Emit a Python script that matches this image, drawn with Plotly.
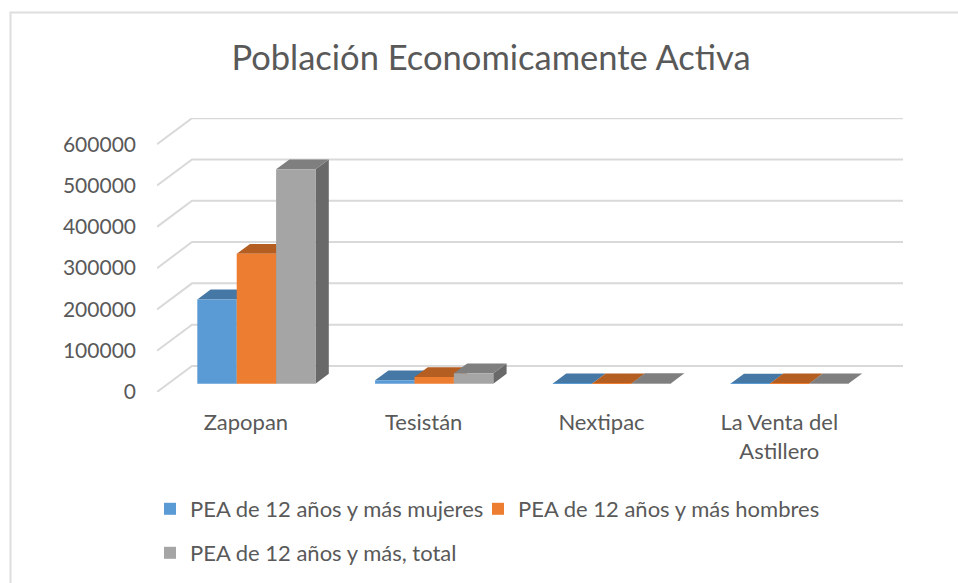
import plotly.graph_objects as go

categories = ["Zapopan", "Tesistán", "Nextipac", "La Venta del<br>Astillero"]
pea_mujeres = [204000, 8000, 400, 300]
pea_hombres = [314500, 16000, 600, 500]
pea_total = [519000, 25000, 1000, 800]
series_names = ["PEA de 12 años y más mujeres", "PEA de 12 años y más hombres", "PEA de 12 años y más, total"]
y_ticks = [0, 100000, 200000, 300000, 400000, 500000, 600000]

front_colors = ["#5B9BD5", "#ED7D31", "#A5A5A5"]
top_colors = ["#4678A6", "#B55E22", "#7F7F7F"]
side_colors = ["#3E6B94", "#A35520", "#696969"]
FONT = "Lato, Carlito, sans-serif"
TEXT = "#595959"
GRID = "#D9D9D9"

W, H = 958, 583
L, R, T, B = 157.0, 903.0, 118.3, 391.7
PX_PER_CAT = 177.8
PX_PER_UNIT = 41.2 / 100000

DX = 35 / PX_PER_CAT
DY = 26 / PX_PER_UNIT
XMAX = (R - L) / PX_PER_CAT
YMAX = (B - T) / PX_PER_UNIT
BAR_W = 39.4 / PX_PER_CAT
BASE_X = 0.30 * DX
BASE_Y = 0.32 * DY
DEPTH_X = 0.38 * DX
DEPTH_Y = 0.38 * DY

fig = go.Figure()

# floor / wall grid lines in the fake 3-D projection
gx, gy = [], []
for v in y_ticks:
    gx += [0, DX, XMAX, None]
    gy += [v, v + DY, v + DY, None]
fig.add_trace(go.Scatter(x=gx, y=gy, mode="lines", line=dict(color=GRID, width=2),
                         showlegend=False, hoverinfo="skip", zorder=-10))

legend_ids = ["legend", "legend2", "legend3"]
all_values = [pea_mujeres, pea_hombres, pea_total]
for i, values in enumerate(all_values):
    centers = [k + 0.5 + BASE_X + (i - 1) * BAR_W for k in range(len(categories))]
    # side and top faces
    sx, sy, tx, ty = [], [], [], []
    for c, v in zip(centers, values):
        x0, x1 = c - BAR_W / 2, c + BAR_W / 2
        y0, y1 = BASE_Y, BASE_Y + v
        sx += [x1, x1 + DEPTH_X, x1 + DEPTH_X, x1, x1, None]
        sy += [y0, y0 + DEPTH_Y, y1 + DEPTH_Y, y1, y0, None]
        tx += [x0, x0 + DEPTH_X, x1 + DEPTH_X, x1, x0, None]
        ty += [y1, y1 + DEPTH_Y, y1 + DEPTH_Y, y1, y1, None]
    for px, py, col in ((sx, sy, side_colors[i]), (tx, ty, top_colors[i])):
        fig.add_trace(go.Scatter(x=px, y=py, mode="lines", fill="toself", fillcolor=col,
                                 line=dict(width=0, color=col), showlegend=False,
                                 hoverinfo="skip", zorder=2 * i))
    fig.add_trace(go.Bar(x=centers, y=values, base=BASE_Y, width=BAR_W, name=series_names[i],
                         marker=dict(color=front_colors[i], line=dict(width=0)),
                         legend=legend_ids[i], zorder=2 * i + 1))

def lx(px):
    return px / W

def ly(py):
    return 1 - py / H

legend_common = dict(orientation="h", xref="container", yref="container", yanchor="middle",
                     xanchor="left", bgcolor="rgba(0,0,0,0)",
                     font=dict(family=FONT, size=22, color=TEXT),
                     itemclick=False, itemdoubleclick=False)

fig.update_layout(
    width=W, height=H, autosize=False,
    margin=dict(l=L, r=W - R, t=T, b=H - B, pad=0),
    paper_bgcolor="white", plot_bgcolor="white",
    barmode="overlay",
    title=dict(text="Población Economicamente Activa", xref="container", yref="container",
               x=491 / W, y=ly(58), xanchor="center", yanchor="middle",
               font=dict(family=FONT, size=34.5, color=TEXT)),
    xaxis=dict(range=[0, XMAX], tickvals=[k + 0.5 for k in range(len(categories))], ticktext=categories,
               showgrid=False, zeroline=False, showline=False, ticks="", ticklabelstandoff=15,
               tickfont=dict(family=FONT, size=22, color=TEXT)),
    yaxis=dict(range=[0, YMAX], tickvals=y_ticks, tickformat="d", showgrid=False, zeroline=False,
               showline=False, ticks="", ticklabelstandoff=20,
               tickfont=dict(family=FONT, size=21, color=TEXT)),
    legend=dict(x=lx(150), y=ly(509), **legend_common),
    legend2=dict(x=lx(478), y=ly(509), **legend_common),
    legend3=dict(x=lx(150), y=ly(553), **legend_common),
    shapes=[dict(type="path", xref="paper", yref="paper",
                 path=f"M {(10.5 - L) / (R - L)} {(B - H) / (B - T)} "
                      f"L {(10.5 - L) / (R - L)} {(B - 13) / (B - T)} "
                      f"L {(W - L) / (R - L)} {(B - 13) / (B - T)}",
                 line=dict(color="#DEDEDE", width=2), layer="below")],
)

fig.write_html("out.html", config={"displayModeBar": False},
               post_script="document.body.style.margin='0';")
